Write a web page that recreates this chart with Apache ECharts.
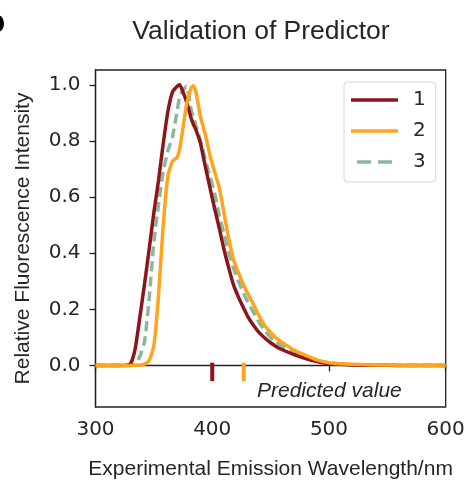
<!DOCTYPE html>
<html>
<head>
<meta charset="utf-8">
<script src="https://cdn.jsdelivr.net/npm/echarts@6/dist/echarts.min.js"></script>
<style>
  html, body { margin: 0; padding: 0; background: #fff; }
  #chart { width: 468px; height: 485px; }
</style>
</head>
<body>
<div id="chart"></div>
<script>
// wavelength grid (nm) shared by the three spectra
const wavelength = [300, 320, 326, 330, 334, 338, 342, 346, 350, 354, 358, 362, 366, 370, 372, 374, 378, 382, 384, 386,
  390, 394, 398, 402, 406, 410, 414, 418, 422, 426, 430, 435, 440, 445, 450, 455, 460, 470, 480, 490,
  500, 520, 540, 560, 580, 600]

// relative intensity
const series1 = [0, 0, 0, 0.006, 0.06, 0.173, 0.29, 0.415, 0.545, 0.66, 0.79, 0.905, 0.975, 0.995, 1.0, 0.985, 0.94, 0.88, 0.858, 0.84,
  0.79, 0.71, 0.635, 0.56, 0.49, 0.415, 0.35, 0.29, 0.248, 0.212, 0.178, 0.145, 0.118, 0.098, 0.081, 0.067, 0.056, 0.039, 0.025, 0.014,
  0.006, 0.002, 0.001, 0, 0, 0]
const series2 = [0, 0, 0, 0, 0.001, 0.002, 0.005, 0.018, 0.07, 0.25, 0.5, 0.675, 0.728, 0.742, 0.77, 0.82, 0.93, 0.99, 0.997, 0.975,
  0.885, 0.825, 0.75, 0.69, 0.635, 0.545, 0.455, 0.38, 0.335, 0.295, 0.26, 0.22, 0.178, 0.142, 0.118, 0.097, 0.082, 0.055, 0.036, 0.019,
  0.01, 0.004, 0.002, 0.001, 0.001, 0]
const series3 = [0, 0, 0, 0, 0.005, 0.033, 0.085, 0.24, 0.44, 0.575, 0.69, 0.765, 0.815, 0.91, 0.955, 0.975, 0.995, 0.91, 0.885, 0.855,
  0.8, 0.735, 0.675, 0.615, 0.535, 0.47, 0.405, 0.35, 0.305, 0.265, 0.23, 0.192, 0.155, 0.125, 0.1, 0.083, 0.069, 0.047, 0.03, 0.017,
  0.009, 0.003, 0.001, 0, 0, 0]

const seriesNames = ['1', '2', '3']
const predicted = [400, 427]          // predicted peak wavelength for 1 and 2
const yTicks = [0, 0.2, 0.4, 0.6, 0.8, 1.0]

const colors = ['#8c1519', '#ffa41c', '#8ab89d']
const textColor = '#262626'
const axisColor = '#222'

function pairs(ys) {
  return wavelength.map((x, i) => [x, ys[i]])
}

const chart = echarts.init(document.getElementById('chart'))

const zOrder = [3, 4, 2]
const lineSeries = [series1, series2, series3].map((ys, i) => ({
  name: seriesNames[i],
  type: 'line',
  data: pairs(ys),
  symbol: 'none',
  smooth: 0.2,
  z: zOrder[i],
  lineStyle: {
    color: colors[i],
    width: 3.5,
    type: i === 2 ? [10, 5] : 'solid',
  },
  itemStyle: { color: colors[i] },
}))

// short vertical marks for predicted values
const markSeries = predicted.map((x, i) => ({
  name: 'pred' + i,
  type: 'line',
  data: [[x, 0.01], [x, -0.056]],
  symbol: 'none',
  lineStyle: { color: colors[i], width: 4 },
  z: 5,
}))

const options = {
  animation: false,
  backgroundColor: '#fff',
  title: {
    text: 'Validation of Predictor',
    left: 256,
    textAlign: 'center',
    top: 13,
    textStyle: {
      fontFamily: 'Liberation Sans',
      fontSize: 26.5,
      fontWeight: 'normal',
      color: textColor,
    },
  },
  grid: {
    left: 95.5,
    right: 22.3,
    top: 70,
    bottom: 73.5,
    show: true,
    borderColor: axisColor,
    borderWidth: 1.3,
  },
  legend: {
    data: [
      { name: '1', icon: 'rect' },
      { name: '2', icon: 'rect' },
      { name: '3', icon: 'path://M2,0h16v4h-16zM26,0h16v4h-16z' },
    ],
    orient: 'vertical',
    left: 344,
    top: 82,
    padding: [8, 10, 10, 7],
    itemWidth: 47,
    itemHeight: 3.5,
    itemGap: 11,
    borderColor: '#d6d6d6',
    borderWidth: 1,
    borderRadius: 4,
    textStyle: {
      fontFamily: 'DejaVu Sans',
      fontSize: 20,
      color: textColor,
      padding: [0, 0, 0, 10],
    },
  },
  xAxis: {
    type: 'value',
    min: 300,
    max: 600,
    interval: 100,
    name: 'Experimental Emission Wavelength/nm',
    nameLocation: 'middle',
    nameGap: 52,
    nameTextStyle: { fontFamily: 'Liberation Sans', fontSize: 21, color: textColor },
    axisLine: { lineStyle: { color: axisColor, width: 1.3 } },
    axisTick: { length: 6, lineStyle: { color: axisColor, width: 1.3 } },
    axisLabel: { fontFamily: 'DejaVu Sans', fontSize: 20, color: textColor, margin: 13 },
    splitLine: { show: false },
  },
  yAxis: {
    type: 'value',
    min: -0.148,
    max: 1.053,
    name: 'Relative Fluorescence Intensity',
    nameLocation: 'middle',
    nameGap: 62,
    nameTextStyle: { fontFamily: 'Liberation Sans', fontSize: 21, color: textColor },
    axisLine: { show: true, lineStyle: { color: axisColor, width: 1.3 } },
    axisTick: { show: true, length: 6, customValues: yTicks, lineStyle: { color: axisColor, width: 1.3 } },
    axisLabel: {
      fontFamily: 'DejaVu Sans',
      fontSize: 20,
      color: textColor,
      margin: 15,
      customValues: yTicks,
      formatter: (v) => v.toFixed(1),
    },
    splitLine: { show: false },
  },
  graphic: [
    {
      type: 'text',
      left: 257,
      top: 381,
      style: {
        text: 'Predicted value',
        font: 'italic 21px "Liberation Sans"',
        fill: textColor,
      },
    },
    {
      type: 'text',
      left: -15,
      top: 11,
      style: {
        text: 'D',
        font: 'bold 28px "Liberation Sans"',
        fill: '#000',
      },
    },
  ],
  series: lineSeries.concat(markSeries),
}

chart.setOption(options)
</script>
</body>
</html>
